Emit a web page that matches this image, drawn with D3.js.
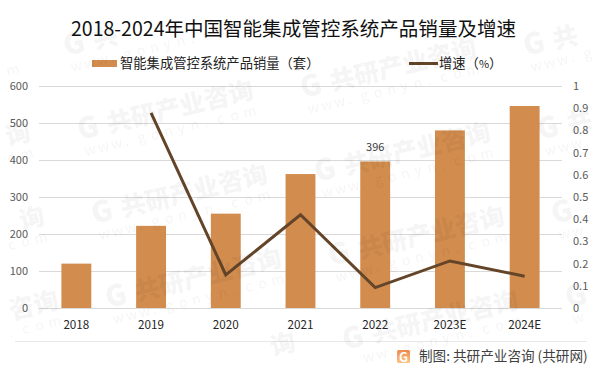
<!DOCTYPE html>
<html>
<head>
<meta charset="utf-8">
<script src="https://cdn.jsdelivr.net/npm/d3@7"></script>
<style>
  html, body { margin: 0; padding: 0; background: #fff; }
  text { font-family: "Noto Sans CJK SC", "Noto Sans", sans-serif; }
</style>
</head>
<body>
<div id="chart"></div>
<script>
const years = ["2018", "2019", "2020", "2021", "2022", "2023E", "2024E"]
const sales = [120, 222, 255, 362, 396, 480, 546]
const growth = [null, 0.879, 0.149, 0.42, 0.092, 0.212, 0.143]
const leftTicks = [0, 100, 200, 300, 400, 500, 600]
const rightTicks = [0, 0.1, 0.2, 0.3, 0.4, 0.5, 0.6, 0.7, 0.8, 0.9, 1]
const labelled = ["2022"]

const width = 602, height = 373
const margin = {top: 86, right: 40, bottom: 65, left: 39}
const barColor = "#d28c4e", lineColor = "#644529"

const svg = d3.select("#chart").append("svg")
    .attr("width", width)
    .attr("height", height)
    .style("display", "block")

const x = d3.scaleBand()
    .domain(years)
    .range([margin.left, width - margin.right])
    .paddingInner(0.6)
    .paddingOuter(0.3)

const yLeft = d3.scaleLinear()
    .domain([0, 600])
    .range([height - margin.bottom, margin.top])

const yRight = d3.scaleLinear()
    .domain([0, 1])
    .range([height - margin.bottom, margin.top])

// grid
svg.append("g")
    .selectAll("line")
    .data(leftTicks)
    .join("line")
    .attr("x1", margin.left)
    .attr("x2", width - margin.right)
    .attr("y1", d => yLeft(d) + 0.5)
    .attr("y2", d => yLeft(d) + 0.5)
    .attr("stroke", "#d9d9d9")
    .attr("stroke-width", 1)

// bars
svg.append("g")
    .selectAll("rect")
    .data(years)
    .join("rect")
    .attr("x", d => x(d))
    .attr("y", (d, i) => yLeft(sales[i]))
    .attr("width", x.bandwidth())
    .attr("height", (d, i) => yLeft(0) - yLeft(sales[i]))
    .attr("fill", barColor)

svg.append("g")
    .selectAll("text")
    .data(labelled)
    .join("text")
    .attr("x", d => x(d) + x.bandwidth() / 2)
    .attr("y", d => yLeft(sales[years.indexOf(d)]) - 10)
    .attr("text-anchor", "middle")
    .attr("font-size", 11)
    .attr("fill", "#404040")
    .text(d => sales[years.indexOf(d)])

// growth line, 2018 has no value
const line = d3.line()
    .defined(d => d[1] !== null)
    .x(d => x(d[0]) + x.bandwidth() / 2)
    .y(d => yRight(d[1]))

svg.append("path")
    .datum(years.map((d, i) => [d, growth[i]]))
    .attr("fill", "none")
    .attr("stroke", lineColor)
    .attr("stroke-width", 3)
    .attr("d", line)

// axes
const axisLeft = svg.append("g")
    .attr("transform", "translate(" + margin.left + ",0)")
    .call(d3.axisLeft(yLeft).tickValues(leftTicks).tickSize(0).tickPadding(11))
const axisRight = svg.append("g")
    .attr("transform", "translate(" + (width - margin.right) + ",0)")
    .call(d3.axisRight(yRight).tickValues(rightTicks).tickFormat(d => d3.format("~g")(d)).tickSize(0).tickPadding(11))
const axisBottom = svg.append("g")
    .attr("transform", "translate(0," + (height - margin.bottom) + ")")
    .call(d3.axisBottom(x).tickSize(0).tickPadding(13))

axisLeft.select(".domain").remove()
axisRight.select(".domain").remove()
axisBottom.select(".domain").remove()
axisLeft.selectAll("text").attr("font-size", 11).attr("fill", "#595959").style("font-family", "'Noto Sans CJK SC'")
axisRight.selectAll("text").attr("font-size", 11).attr("fill", "#595959").style("font-family", "'Noto Sans CJK SC'")
axisBottom.selectAll("text").attr("font-size", 11.7).attr("fill", "#262626").style("font-family", "'Noto Sans CJK SC'")

// title
svg.append("text")
    .attr("x", 293.5)
    .attr("y", 36)
    .attr("text-anchor", "middle")
    .attr("font-size", 19.55)
    .attr("fill", "#111")
    .text("2018-2024年中国智能集成管控系统产品销量及增速")

// legend
svg.append("rect").attr("x", 92).attr("y", 60).attr("width", 25).attr("height", 7).attr("fill", barColor)
svg.append("text").attr("x", 120).attr("y", 68).attr("font-size", 13.3).attr("fill", "#222")
    .text("智能集成管控系统产品销量（套）")
svg.append("line").attr("x1", 409).attr("x2", 438).attr("y1", 63.5).attr("y2", 63.5)
    .attr("stroke", lineColor).attr("stroke-width", 3)
const legend2 = svg.append("text").attr("x", 439).attr("y", 68).attr("font-size", 13.3).attr("fill", "#222")
legend2.append("tspan").text("增速（")
legend2.append("tspan").attr("font-size", 11).text("%")
legend2.append("tspan").text("）")

// footer
svg.append("line").attr("x1", 15).attr("x2", 587).attr("y1", 341.5).attr("y2", 341.5)
    .attr("stroke", "#e8e8e8")
const grad = svg.append("defs").append("linearGradient")
    .attr("id", "logoGrad").attr("x1", 0).attr("y1", 0).attr("x2", 0).attr("y2", 1)
grad.append("stop").attr("offset", 0).attr("stop-color", "#f08a4b")
grad.append("stop").attr("offset", 1).attr("stop-color", "#fbc487")
const logo = svg.append("g").attr("transform", "translate(397,350)")
logo.append("rect").attr("width", 13).attr("height", 13).attr("rx", 1.5).attr("fill", "url(#logoGrad)")
logo.append("text").attr("x", 6.5).attr("y", 11.5).attr("text-anchor", "middle")
    .attr("font-size", 12.5).attr("font-weight", 700).attr("fill", "#fff").text("G")
svg.append("text").attr("x", 419).attr("y", 361).attr("font-size", 13.6).attr("fill", "#404040")
    .text("制图: 共研产业咨询 (共研网)")

// watermark, placed glyph by glyph so that only what fits in the frame is drawn
const angle = -13.5 * Math.PI / 180
const mark = svg.append("g").attr("fill", "#000").attr("opacity", 0.04).style("pointer-events", "none")

function put_glyph(ox, oy, lx, ly, ch, size, weight) {
    let px = ox + lx * Math.cos(angle) - ly * Math.sin(angle)
    let py = oy + lx * Math.sin(angle) + ly * Math.cos(angle)
    let pad = size * 1.1
    if (px < 1 || px + pad > width - 1 || py - pad * 1.6 < 1 || py + pad * 0.4 > height - 1) return
    mark.append("text")
        .attr("transform", "translate(" + px + "," + py + ") rotate(-13.5)")
        .attr("font-size", size)
        .attr("font-weight", weight)
        .text(ch)
}

for (let i = -1; i < 3; i++) {
    for (let j = -1; j < 4; j++) {
        let ox = 80 + i * 223 + j * 14
        let oy = 140 - i * 42 + j * 84
        put_glyph(ox, oy, 0, 0, "G", 29, 900)
        Array.from("共研产业咨询").forEach((c, k) => put_glyph(ox, oy, 30 + k * 25, 0, c, 25, 900))
        Array.from("www.gonyn.com").forEach((c, k) => put_glyph(ox, oy, 2 + k * 13.6, 17, c, 14, 400))
    }
}
</script>
</body>
</html>
